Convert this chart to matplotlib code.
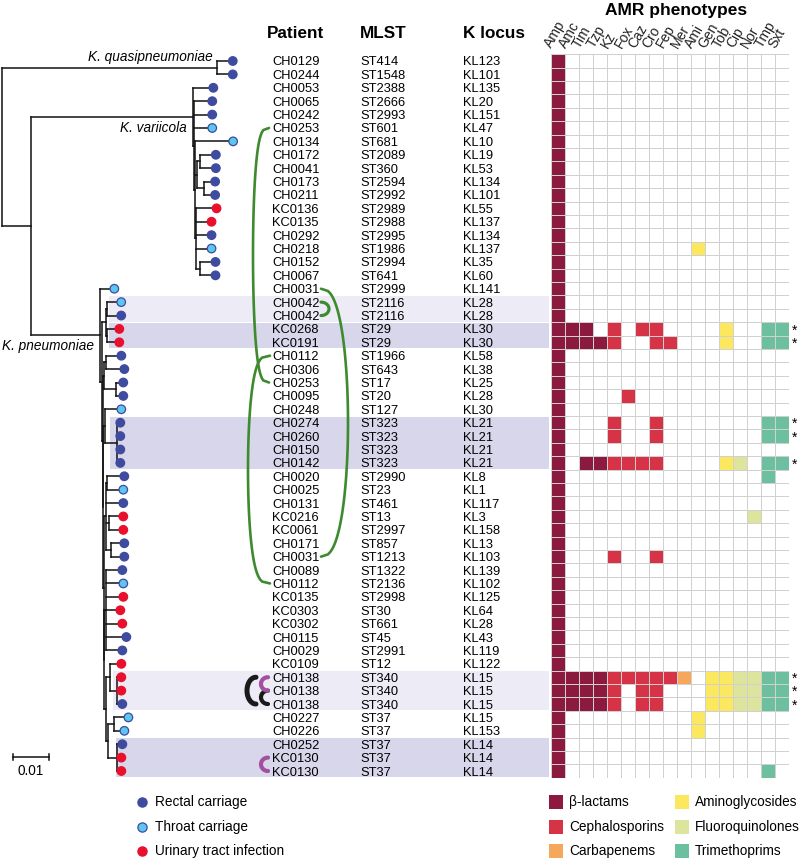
"""
Klebsiella phylogeny with patient / MLST / K locus table and AMR phenotype grid.
"""
import numpy as np
import matplotlib
matplotlib.use("Agg")
import matplotlib.pyplot as plt
from matplotlib.collections import LineCollection
from matplotlib.colors import ListedColormap
from matplotlib.patches import Rectangle

plt.rcParams["font.family"] = ["Liberation Sans", "DejaVu Sans"]

# ── Data ──────────────────────────────────────────────────────────────────────

# branch lengths in substitutions/site, tips t1..t54 in row order
NEWICK = (
    "((t1:0.0044,t2:0.0044)Kq:0.0597,"
    "((t3:0.0056,(t4:0.005,t5:0.005,t6:0.005,(t7:0.0106,"
    "((t8:0.0044,t9:0.0044):0.0008,(t10:0.0031,t11:0.0031):0.0019):0.0006,"
    "(t12:0.0056,t13:0.0042,t14:0.0042,t15:0.0042,(t16:0.0042,t17:0.0042):0.0011):0.0004"
    "):0.0002):0.0003)Kv:0.045,"
    "(t18:0.0039,(((t19:0.004,t20:0.004):0.00014,(t21:0.00347,t22:0.00347):0.00014):0.00111,"
    "(((t23:0.00417,t24:0.005):0.00056,(t25:0.00194,t26:0.00194):0.00333):0.00042,"
    "((t27:0.00444,(t28:0.00083,t29:0.00083,t30:0.00083,t31:0.00083):0.00333):0.00056,"
    "(((t32:0.00472,t33:0.00444):0.00028,t34:0.00472,(t35:0.00389,t36:0.00389):0.00083,"
    "(t37:0.00361,t38:0.00361):0.00139):0.00069,"
    "((t39:0.00458,t40:0.00486,t41:0.00486,t42:0.00403,t43:0.00458,t44:0.0057,t45:0.00458):0.00042,"
    "((t46:0.00306,(t47:0.00111,t48:0.00111,t49:0.00139):0.00194):0.00111,"
    "((t50:0.00389,t51:0.00278):0.00167,(t52:0.00139,t53:0.00111,t54:0.00111):0.0025):0.00056):0.00056"
    "):0.00014):0.00014):0.00014):0.00014):0.00056)Kp:0.0192"
    "):0.0081);"
)

SPECIES = [("Kq", "K. quasipneumoniae"), ("Kv", "K. variicola"), ("Kp", "K. pneumoniae")]

PATIENT = ["CH0129", "CH0244", "CH0053", "CH0065", "CH0242", "CH0253", "CH0134", "CH0172",
           "CH0041", "CH0173", "CH0211", "KC0136", "KC0135", "CH0292", "CH0218", "CH0152",
           "CH0067", "CH0031", "CH0042", "CH0042", "KC0268", "KC0191", "CH0112", "CH0306",
           "CH0253", "CH0095", "CH0248", "CH0274", "CH0260", "CH0150", "CH0142", "CH0020",
           "CH0025", "CH0131", "KC0216", "KC0061", "CH0171", "CH0031", "CH0089", "CH0112",
           "KC0135", "KC0303", "KC0302", "CH0115", "CH0029", "KC0109", "CH0138", "CH0138",
           "CH0138", "CH0227", "CH0226", "CH0252", "KC0130", "KC0130"]

MLST = ["ST414", "ST1548", "ST2388", "ST2666", "ST2993", "ST601", "ST681", "ST2089",
        "ST360", "ST2594", "ST2992", "ST2989", "ST2988", "ST2995", "ST1986", "ST2994",
        "ST641", "ST2999", "ST2116", "ST2116", "ST29", "ST29", "ST1966", "ST643",
        "ST17", "ST20", "ST127", "ST323", "ST323", "ST323", "ST323", "ST2990",
        "ST23", "ST461", "ST13", "ST2997", "ST857", "ST1213", "ST1322", "ST2136",
        "ST2998", "ST30", "ST661", "ST45", "ST2991", "ST12", "ST340", "ST340",
        "ST340", "ST37", "ST37", "ST37", "ST37", "ST37"]

K_LOCUS = ["KL123", "KL101", "KL135", "KL20", "KL151", "KL47", "KL10", "KL19",
           "KL53", "KL134", "KL101", "KL55", "KL137", "KL134", "KL137", "KL35",
           "KL60", "KL141", "KL28", "KL28", "KL30", "KL30", "KL58", "KL38",
           "KL25", "KL28", "KL30", "KL21", "KL21", "KL21", "KL21", "KL8",
           "KL1", "KL117", "KL3", "KL158", "KL13", "KL103", "KL139", "KL102",
           "KL125", "KL64", "KL28", "KL43", "KL119", "KL122", "KL15", "KL15",
           "KL15", "KL15", "KL153", "KL14", "KL14", "KL14"]

# R = rectal carriage, T = throat carriage, U = urinary tract infection
SOURCE = ["R", "R", "R", "R", "R", "T", "T", "R", "R", "R", "R", "U", "U", "R", "T", "R",
          "R", "T", "T", "R", "U", "U", "R", "R", "R", "R", "T", "R", "R", "R", "R", "R",
          "T", "R", "U", "U", "R", "R", "R", "T", "U", "U", "U", "R", "R", "U", "U", "U",
          "R", "T", "T", "R", "U", "U"]
SOURCE_LABELS = {"R": "Rectal carriage", "T": "Throat carriage", "U": "Urinary tract infection"}

DRUGS = ["Amp", "Amc", "Tim", "Tzp", "Kz", "Fox", "Caz", "Cro", "Fep", "Mer",
         "Ami", "Gen", "Tob", "Cip", "Nor", "Tmp", "Sxt"]
DRUG_CLASS = [1, 1, 1, 1, 2, 2, 2, 2, 2, 3, 4, 4, 4, 5, 5, 6, 6]
CLASS_NAMES = ["β-lactams", "Cephalosporins", "Carbapenems",
               "Aminoglycosides", "Fluoroquinolones", "Trimethoprims"]

RESISTANT = (
    ["Amp"] * 14
    + ["Amp Ami"]
    + ["Amp"] * 5
    + ["Amp Amc Tim Kz Caz Cro Tob Tmp Sxt",
       "Amp Amc Tim Tzp Kz Cro Fep Tob Tmp Sxt",
       "Amp", "Amp", "Amp",
       "Amp Fox",
       "Amp",
       "Amp Kz Cro Tmp Sxt",
       "Amp Kz Cro Tmp Sxt",
       "Amp",
       "Amp Tim Tzp Kz Fox Caz Cro Tob Cip Tmp Sxt",
       "Amp Tmp",
       "Amp", "Amp",
       "Amp Nor",
       "Amp", "Amp",
       "Amp Kz Cro"]
    + ["Amp"] * 8
    + ["Amp Amc Tim Tzp Kz Fox Caz Cro Fep Mer Gen Tob Cip Nor Tmp Sxt",
       "Amp Amc Tim Tzp Kz Caz Cro Gen Tob Cip Nor Tmp Sxt",
       "Amp Amc Tim Tzp Kz Caz Cro Gen Tob Cip Nor Tmp Sxt",
       "Amp Ami", "Amp Ami", "Amp", "Amp",
       "Amp Tmp"]
)

MDR_ROWS = [21, 22, 28, 29, 31, 47, 48, 49]

# (first row, last row, shade)
HIGHLIGHTS = [(19, 20, "light"), (21, 22, "dark"), (28, 31, "dark"),
              (47, 49, "light"), (52, 54, "dark")]

# same-patient links: (row a, row b, colour key)
LINKS = [(6, 25, "green"), (23, 40, "green"), (18, 38, "green"), (19, 20, "green"),
         (47, 49, "black"), (48, 49, "black"), (47, 48, "purple"), (53, 54, "purple")]

# ── Style ─────────────────────────────────────────────────────────────────────

SOURCE_FACE = {"R": "#3F4B9F", "T": "#5CC6EE", "U": "#E8102C"}
SOURCE_EDGE = {"R": "#3F4B9F", "T": "#3F4B9F", "U": "#E8102C"}
CLASS_COLORS = ["#8B1A3E", "#D73347", "#F5A85B", "#FCE85E", "#DDE49C", "#6DC09F"]
BAND_COLORS = {"light": "#ECEBF6", "dark": "#D8D6EA"}
BAND_LEFT = [109, 109, 110, 113, 116]
LINK_COLORS = {"green": "#3E8A2F", "purple": "#A3509E", "black": "#1A1A1A"}
# x of the ends, bulge, exponent, width for each link
LINK_GEOM = [(269, -16, 0.3, 1.9), (270, -22, 0.3, 1.9), (321, 27, 0.4, 1.9),
             (321, 8, 0.5, 2.3), (256, -9, 0.5, 3.6), (268, -7, 0.5, 3.0),
             (268, -7, 0.5, 3.0), (268, -7, 0.5, 3.0)]

W, H = 800, 861
ROW_TOP, ROW_BOT = 54.3, 777.7          # pixel extent of the 54 rows
PX_PER_SUB = 3600.0                      # 0.01 subs/site = 36 px
FS = 9.3


# ── Tree helpers ──────────────────────────────────────────────────────────────

def parse_newick(s):
    pos = 0

    def node():
        nonlocal pos
        n = {"children": [], "name": "", "length": 0.0}
        if s[pos] == "(":
            pos += 1
            n["children"].append(node())
            while s[pos] == ",":
                pos += 1
                n["children"].append(node())
            pos += 1
        start = pos
        while s[pos] not in ":,();":
            pos += 1
        n["name"] = s[start:pos]
        if s[pos] == ":":
            pos += 1
            start = pos
            while s[pos] not in ",();":
                pos += 1
            n["length"] = float(s[start:pos])
        return n

    return node()


def layout(n, x0, tips):
    n["x"] = x0 + n["length"]
    if not n["children"]:
        tips.append(n)
        n["y"] = len(tips)
    else:
        for c in n["children"]:
            layout(c, n["x"], tips)
        n["y"] = (n["children"][0]["y"] + n["children"][-1]["y"]) / 2


def collect(n, segs, named):
    if n["name"]:
        named[n["name"]] = n
    if n["children"]:
        segs.append([(n["x"], n["children"][0]["y"]), (n["x"], n["children"][-1]["y"])])
        for c in n["children"]:
            segs.append([(n["x"], c["y"]), (c["x"], c["y"])])
            collect(c, segs, named)


def link_curve(r0, r1, x0, bulge, k):
    t = np.linspace(0, 1, 120)
    y = r0 + (r1 - r0) * t
    x = x0 + bulge * np.clip(1 - (2 * t - 1) ** 2, 0, 1) ** k
    return x, y


# ── Figure ────────────────────────────────────────────────────────────────────

def main():
    fig = plt.figure(figsize=(W / 100, H / 100), dpi=100)
    bottom = 1 - ROW_BOT / H
    height = (ROW_BOT - ROW_TOP) / H
    n_rows = len(PATIENT)

    # pixel overlay for headers and legends
    ax_px = fig.add_axes([0, 0, 1, 1])
    ax_px.set_xlim(0, W)
    ax_px.set_ylim(H, 0)
    ax_px.axis("off")

    # table rows
    ax_r = fig.add_axes([0, bottom, 1, height])
    ax_r.set_xlim(0, W)
    ax_r.set_ylim(n_rows + 0.5, 0.5)
    ax_r.axis("off")
    ax_r.patch.set_alpha(0)

    for (r0, r1, shade), left in zip(HIGHLIGHTS, BAND_LEFT):
        ax_r.add_patch(Rectangle((left, r0 - 0.46), 549 - left, r1 - r0 + 0.92,
                                 facecolor=BAND_COLORS[shade], edgecolor="none", zorder=0))

    for i, (p, st, kl) in enumerate(zip(PATIENT, MLST, K_LOCUS), start=1):
        ax_r.text(272, i, p, fontsize=FS, va="center_baseline", ha="left", zorder=3)
        ax_r.text(360, i, st, fontsize=FS, va="center_baseline", ha="left", zorder=3)
        ax_r.text(463, i, kl, fontsize=FS, va="center_baseline", ha="left", zorder=3)

    for r in MDR_ROWS:
        ax_r.text(795, r, "*", fontsize=10, ha="center", va="center_baseline")

    for (r0, r1, key), (x0, bulge, k, lw) in zip(LINKS, LINK_GEOM):
        x, y = link_curve(r0, r1, x0, bulge, k)
        ax_r.plot(x, y, color=LINK_COLORS[key], lw=lw, solid_capstyle="round", zorder=2)

    # tree
    ax_t = fig.add_axes([0, bottom, 250 / W, height])
    ax_t.set_xlim(-2 / PX_PER_SUB, 248 / PX_PER_SUB)
    ax_t.set_ylim(n_rows + 0.5, 0.5)
    ax_t.axis("off")
    ax_t.patch.set_alpha(0)

    root = parse_newick(NEWICK)
    tips = []
    layout(root, 0.0, tips)
    segs, named = [], {}
    collect(root, segs, named)
    ax_t.add_collection(LineCollection(segs, colors="#111111", linewidths=1.1,
                                       capstyle="projecting"))
    ax_t.scatter([t["x"] for t in tips], [t["y"] for t in tips],
                 c=[SOURCE_FACE[s] for s in SOURCE], edgecolors=[SOURCE_EDGE[s] for s in SOURCE],
                 s=38, linewidths=0.9, zorder=3, clip_on=False)

    for key, label in SPECIES:
        nd = named[key]
        if key == "Kq":
            ax_t.text(nd["x"] - 4 / PX_PER_SUB, nd["y"] - 0.3, label, style="italic",
                      fontsize=9.8, ha="right", va="bottom")
        else:
            ax_t.text(nd["x"] - 6 / PX_PER_SUB, nd["y"] + 0.3, label, style="italic",
                      fontsize=9.8, ha="right", va="top")

    # scale bar
    sx0, sy = 11 / PX_PER_SUB, 52.96
    ax_t.plot([sx0, sx0 + 0.01], [sy, sy], color="#111111", lw=1.1, clip_on=False)
    for xx in (sx0, sx0 + 0.01):
        ax_t.plot([xx, xx], [sy - 0.25, sy + 0.25], color="#111111", lw=1.1, clip_on=False)
    ax_t.text(sx0 + 0.005, sy + 0.5, "0.01", fontsize=9.8, ha="center", va="top")

    # AMR grid
    ax_h = fig.add_axes([551 / W, bottom, 17 * 14 / W, height])
    codes = np.zeros((n_rows, len(DRUGS)), dtype=int)
    for i, row in enumerate(RESISTANT):
        for d in row.split():
            j = DRUGS.index(d)
            codes[i, j] = DRUG_CLASS[j]
    cmap = ListedColormap(["white"] + CLASS_COLORS)
    xe = np.arange(len(DRUGS) + 1) - 0.5
    ye = np.arange(n_rows + 1) + 0.5
    ax_h.pcolormesh(xe, ye, codes, cmap=cmap, vmin=-0.5, vmax=6.5,
                    edgecolors="#D0D0D0", linewidth=0.6)
    ax_h.set_xlim(-0.5, len(DRUGS) - 0.5)
    ax_h.set_ylim(n_rows + 0.5, 0.5)
    ax_h.axis("off")
    for j, d in enumerate(DRUGS):
        ax_h.text(j - 0.45, 0.1, d, rotation=60, rotation_mode="anchor",
                  ha="left", va="baseline", fontsize=10, color="#222222")

    # headers
    for x, label in [(267, "Patient"), (360, "MLST"), (463, "K locus")]:
        ax_px.text(x, 34, label, fontsize=12.3, fontweight="bold", ha="left", va="center")
    ax_px.text(676, 10, "AMR phenotypes", fontsize=12.5, fontweight="bold",
               ha="center", va="center")

    # legends
    leg_y = [802, 827, 851]
    for y, code in zip(leg_y, ["R", "T", "U"]):
        ax_px.scatter([142], [y], s=44, c=SOURCE_FACE[code], edgecolors=SOURCE_EDGE[code],
                      linewidths=0.9)
        ax_px.text(155, y, SOURCE_LABELS[code], fontsize=9.8, ha="left", va="center")
    for k, (name, color) in enumerate(zip(CLASS_NAMES, CLASS_COLORS)):
        x = 549 if k < 3 else 675
        y = leg_y[k % 3]
        ax_px.add_patch(Rectangle((x, y - 7), 14, 14, facecolor=color, edgecolor="none"))
        ax_px.text(x + 20, y, name, fontsize=9.8, ha="left", va="center")

    fig.savefig("out.png", dpi=100)
    plt.close(fig)


if __name__ == "__main__":
    main()
